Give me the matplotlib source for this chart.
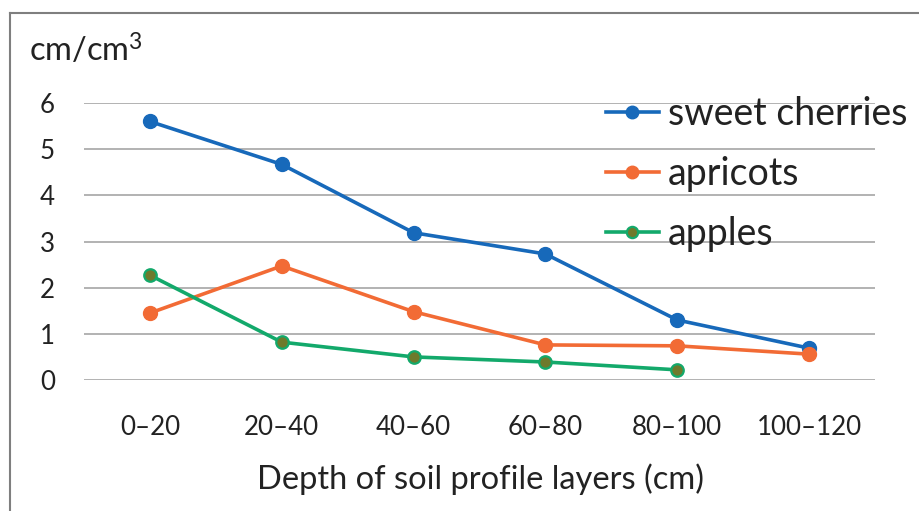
import matplotlib
matplotlib.use("Agg")
import matplotlib.pyplot as plt
from matplotlib.lines import Line2D

plt.rcParams['font.family'] = ['Lato', 'DejaVu Sans']
plt.rcParams['mathtext.fontset'] = 'custom'
plt.rcParams['mathtext.rm'] = 'Lato'
plt.rcParams['mathtext.it'] = 'Lato'

# Root length density by soil depth layer
layers = ["0–20", "20–40", "40–60", "60–80", "80–100", "100–120"]
sweet_cherries = [5.6, 4.67, 3.19, 2.73, 1.3, 0.69]
apricots = [1.45, 2.47, 1.48, 0.76, 0.74, 0.56]
apples = [2.27, 0.82, 0.5, 0.39, 0.22]
y_ticks = [0, 1, 2, 3, 4, 5, 6]

W, H = 919, 511
fig = plt.figure(figsize=(W / 100, H / 100), dpi=100)

# outer chart frame (top and left edges)
fig.add_artist(Line2D([10 / W, 10 / W], [0, 1 - 13 / H], transform=fig.transFigure,
                      color='#7f7f7f', lw=1.5))
fig.add_artist(Line2D([10 / W, 1], [1 - 13 / H, 1 - 13 / H], transform=fig.transFigure,
                      color='#7f7f7f', lw=1.5))

left, right = 84 / W, 875 / W
bottom, top = (H - 380) / H, (H - 103) / H
ax = fig.add_axes([left, bottom, right - left, top - bottom])

blue, orange, green = '#1769BA', '#F26B35', '#13A96B'
lw, ms = 2.6, 10

x = list(range(len(layers)))
ax.plot(x, sweet_cherries, color=blue, lw=lw, marker='o', ms=ms, mfc=blue, mec=blue,
        label='sweet cherries', clip_on=False, zorder=3)
ax.plot(x, apricots, color=orange, lw=lw, marker='o', ms=ms, mfc=orange, mec=orange,
        label='apricots', clip_on=False, zorder=4)
ax.plot(x[:len(apples)], apples, color=green, lw=lw, marker='o', ms=ms - 1, mfc='#6E7A2C',
        mec=green, mew=1.6, label='apples', clip_on=False, zorder=5)

ax.set_xlim(-0.5, len(layers) - 0.5)
ax.set_ylim(0, 6)
ax.set_yticks(y_ticks)
ax.set_xticks(x)
ax.set_xticklabels(layers)
ax.yaxis.grid(True, color='#A6A6A6', lw=1.2)
ax.set_axisbelow(True)
for s in ax.spines.values():
    s.set_visible(False)
ax.tick_params(axis='both', length=0, labelsize=18.6, colors='#222222')
ax.tick_params(axis='y', pad=21)
ax.tick_params(axis='x', pad=25)

fig.text(480 / W, 1 - 489 / H, "Depth of soil profile layers (cm)", ha='center',
         va='baseline', fontsize=23.5, color='#222222')
fig.text(29 / W, 1 - 62 / H, r"cm/cm$^{3}$", ha='left', va='baseline',
         fontsize=23.5, color='#222222')

leg = ax.legend(loc='upper left', bbox_to_anchor=(606 / W, 1 - 96 / H),
                bbox_transform=fig.transFigure, frameon=False, fontsize=27,
                handlelength=1.4, handletextpad=0.25, labelspacing=0.64,
                borderaxespad=0, borderpad=0, markerscale=0.9)
for t in leg.get_texts():
    t.set_color('#222222')

fig.savefig("out.png", dpi=100, facecolor='white')
